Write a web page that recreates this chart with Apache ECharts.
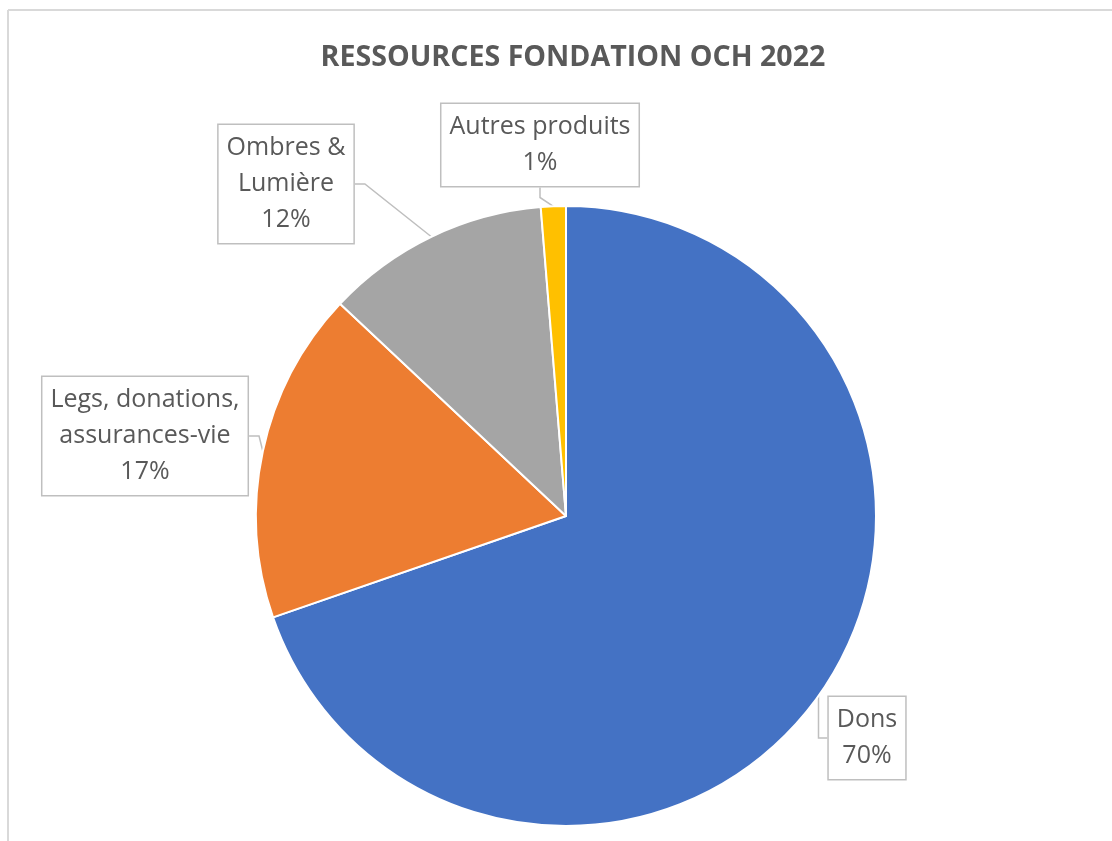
<!DOCTYPE html>
<html>
<head>
<meta charset="utf-8">
<script src="https://cdn.jsdelivr.net/npm/echarts@6/dist/echarts.min.js"></script>
<style>
html,body{margin:0;padding:0;background:#fff;}
#chart{width:1112px;height:841px;}
</style>
</head>
<body>
<div id="chart"></div>
<script>
// Data
var titleText = 'RESSOURCES FONDATION OCH 2022';
var categories = ['Dons', 'Legs, donations,\nassurances-vie', 'Ombres &\nLumière', 'Autres produits'];
var values = [69.7, 17.3, 11.7, 1.3];
var colors = ['#4472C4', '#ED7D31', '#A5A5A5', '#FFC000'];
// label box centres (layout only)
var labelPos = [[867, 738], [145, 436], [286, 184], [540, 145]];

var chart = echarts.init(document.getElementById('chart'), null, {renderer: 'canvas'});
var data = categories.map(function (c, i) {
  return {name: c, value: values[i], itemStyle: {color: colors[i]}};
});

chart.setOption({
  animation: false,
  title: {
    text: titleText,
    left: 568,
    top: 38,
    textAlign: 'center',
    textStyle: {fontFamily: 'Open Sans', fontWeight: 'bold', fontSize: 28.6, color: '#595959'}
  },
  graphic: [
    {type: 'line', shape: {x1: 8, y1: 10, x2: 1112, y2: 10}, style: {stroke: '#D9D9D9', lineWidth: 2}, silent: true},
    {type: 'line', shape: {x1: 8, y1: 10, x2: 8, y2: 841}, style: {stroke: '#D9D9D9', lineWidth: 2}, silent: true}
  ],
  series: [{
    type: 'pie',
    center: [566, 516],
    radius: ['0%', 310],
    startAngle: 90,
    clockwise: true,
    data: data,
    itemStyle: {borderColor: '#fff', borderWidth: 2},
    label: {
      show: true,
      position: 'outside',
      formatter: function (p) { return p.name + '\n' + Math.round(p.percent) + '%'; },
      fontFamily: 'Open Sans',
      fontSize: 25,
      lineHeight: 36,
      color: '#595959',
      align: 'center',
      backgroundColor: '#fff',
      borderColor: '#BFBFBF',
      borderWidth: 1.5,
      padding: [5, 8]
    },
    labelLine: {
      show: true,
      length: 10,
      length2: 10,
      lineStyle: {color: '#BFBFBF', width: 1.5}
    },
    labelLayout: function (params) {
      var p = labelPos[params.dataIndex];
      return {x: p[0], y: p[1], align: 'center', verticalAlign: 'middle'};
    }
  }]
});
</script>
</body>
</html>
